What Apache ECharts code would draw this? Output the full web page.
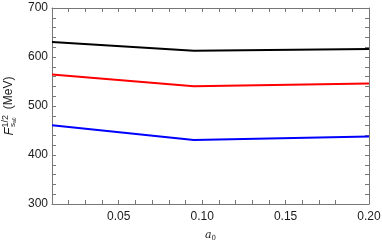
<!DOCTYPE html>
<html><head><meta charset="utf-8">
<script src="https://cdn.jsdelivr.net/npm/echarts@6/dist/echarts.min.js"></script>
<style>html,body{margin:0;padding:0;background:#fff}#c{width:382px;height:248px}</style>
</head><body><div id="c"></div>
<script>
const xValues = [0.01, 0.095, 0.20];
const blackValues = [630.5, 613, 616.5];
const redValues = [564.5, 540.5, 546];
const blueValues = [460.5, 430.5, 438];
const xTickLabels = ['0.05', '0.10', '0.15', '0.20'];
const yTickLabels = ['300', '400', '500', '600', '700'];

const chart = echarts.init(document.getElementById('c'));
const frame = '#777';
const fam = 'Liberation Sans, Arial, sans-serif';
function pairs(ys) { return xValues.map((x, i) => [x, ys[i]]); }
const hid = {h: {color: 'rgba(0,0,0,0)', fontSize: 6}};
function xFmt(v) { const s = (Math.round(v * 100) / 100).toFixed(2); return xTickLabels.includes(s) ? s : '{h|' + s + '}'; }
function yFmt(v) { const s = String(Math.round(v)); return yTickLabels.includes(s) ? s : '{h|' + s + '}'; }
chart.setOption({
  animation: false,
  grid: {left: 52, right: 13, top: 8, bottom: 44, containLabel: false, outerBoundsMode: 'none'},
  xAxis: [
    {type: 'value', min: 0.01, max: 0.2, interval: 0.01, position: 'bottom', splitLine: {show: false},
      axisLine: {show: true, lineStyle: {color: frame}},
      axisTick: {show: true, inside: true, interval: 0, length: 4, lineStyle: {color: frame}},
      axisLabel: {margin: 7, fontFamily: fam, fontSize: 12, color: '#1a1a1a', formatter: xFmt, rich: hid,
        showMaxLabel: true, showMinLabel: true, hideOverlap: false},
      name: '{a|a}{s|0}', nameLocation: 'middle', nameGap: 25, nameTextStyle: {rich: {
        a: {fontFamily: 'DejaVu Serif, serif', fontStyle: 'italic', fontSize: 11, color: '#222'},
        s: {fontFamily: 'DejaVu Serif, serif', fontSize: 7, color: '#222', verticalAlign: 'bottom', padding: [6,0,0,0]}}}},
    {type: 'value', min: 0.01, max: 0.2, interval: 0.01, position: 'top', splitLine: {show: false},
      axisLine: {show: true, lineStyle: {color: frame}},
      axisTick: {show: true, inside: true, interval: 0, length: 4, lineStyle: {color: frame}},
      axisLabel: {fontSize: 6, color: 'rgba(0,0,0,0)'}}
  ],
  yAxis: [
    {type: 'value', min: 300, max: 700, interval: 20, position: 'left', splitLine: {show: false},
      axisLine: {show: true, onZero: false, lineStyle: {color: frame}},
      axisTick: {show: true, inside: true, length: 4, lineStyle: {color: frame}},
      axisLabel: {margin: 4, fontFamily: fam, fontSize: 12, color: '#1a1a1a', formatter: yFmt, rich: hid,
        showMaxLabel: true, showMinLabel: true},
      name: '{f|F}{sup|1/2}{sub|s}{subsub|a0} {u|(MeV)}', nameLocation: 'middle', nameGap: 33, nameRotate: 90,
      nameTextStyle: {rich: {
        f: {fontFamily: fam, fontStyle: 'italic', fontSize: 13, color: '#1a1a1a', verticalAlign: 'middle'},
        sup: {fontFamily: fam, fontSize: 9, color: '#1a1a1a', verticalAlign: 'top', padding: [0,0,7,0]},
        sub: {fontFamily: fam, fontSize: 8, color: '#1a1a1a', verticalAlign: 'bottom', padding: [7,0,0,-12]},
        subsub: {fontFamily: fam, fontSize: 5, color: '#1a1a1a', verticalAlign: 'bottom', padding: [10,0,0,0]},
        u: {fontFamily: fam, fontSize: 12, color: '#1a1a1a', verticalAlign: 'middle', padding: [0,0,0,5]}}}},
    {type: 'value', min: 300, max: 700, interval: 20, position: 'right', splitLine: {show: false},
      axisLine: {show: true, lineStyle: {color: frame}},
      axisTick: {show: true, inside: true, length: 4, lineStyle: {color: frame}},
      axisLabel: {fontSize: 6, color: 'rgba(0,0,0,0)'}}
  ],
  series: [
    {type: 'line', data: pairs(blackValues), xAxisIndex: 0, yAxisIndex: 0, showSymbol: false, lineStyle: {color: '#000', width: 2}, itemStyle: {color: '#000'}},
    {type: 'line', data: pairs(redValues), xAxisIndex: 0, yAxisIndex: 0, showSymbol: false, lineStyle: {color: '#ff0000', width: 2}, itemStyle: {color: '#ff0000'}},
    {type: 'line', data: pairs(blueValues), xAxisIndex: 0, yAxisIndex: 0, showSymbol: false, lineStyle: {color: '#0000ff', width: 2}, itemStyle: {color: '#0000ff'}}
  ]
});
</script></body></html>
